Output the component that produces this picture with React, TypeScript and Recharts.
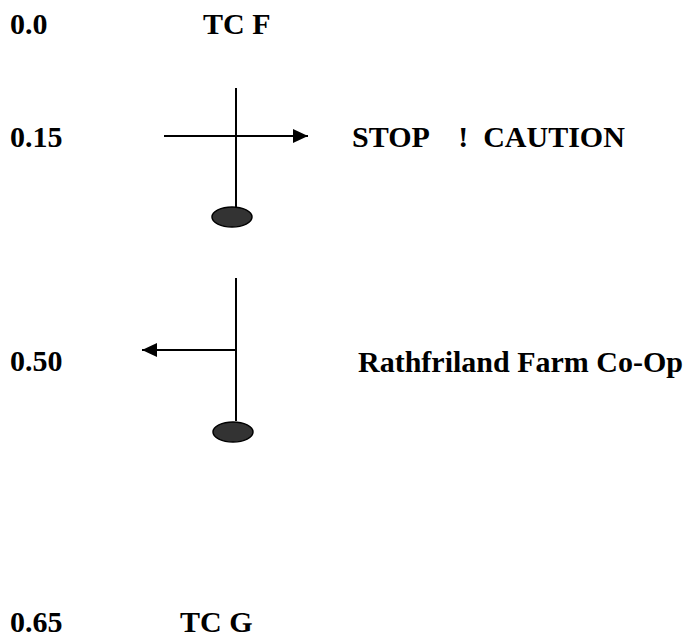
import { ComposedChart, XAxis, YAxis, Line, Scatter } from 'recharts'

// route card: distance column, junction sketches, notes
const distances = ['0.0', '0.15', '0.50', '0.65']
const distanceBaseline = [34, 147, 371, 632]
const notes = ['TC F', 'STOP    !  CAUTION', 'Rathfriland Farm Co-Op', 'TC G']
const noteX = [203, 352, 358, 180]
const noteBaseline = [34, 147, 372, 632]

// junction sketches (diagram units)
const stemX = [236, 236]
const stemTop = [88, 278]
const stemBottom = [207, 421]
const turnY = [136, 350]
const turnFrom = [164, 236]
const turnTo = [308, 142]
const dotX = [232, 233]
const dotY = [217, 432]

const W = 698
const H = 637
const FONT = '"Liberation Serif", "Times New Roman", Times, serif'

const distanceData = distances.map((t, i) => ({ x: 10, y: distanceBaseline[i], text: t }))
const noteData = notes.map((t, i) => ({ x: noteX[i], y: noteBaseline[i], text: t }))
const stems = stemX.map((x, i) => [{ x, y: stemTop[i] }, { x, y: stemBottom[i] }])
const turns = turnY.map((y, i) => [{ x: turnFrom[i], y }, { x: turnTo[i], y }])
const arrowData = turnY.map((y, i) => ({ x: turnTo[i], y, dir: turnTo[i] > turnFrom[i] ? 1 : -1 }))
const dotData = dotX.map((x, i) => ({ x, y: dotY[i] }))

const TextMark = (props: any) => (
  <text
    x={props.cx}
    y={props.cy}
    style={{ fontFamily: FONT, fontWeight: 700, fontSize: 30, whiteSpace: 'pre' }}
    fill="#000"
  >
    {props.payload.text}
  </text>
)

const ArrowHead = (props: any) => {
  const { cx, cy } = props
  const d = props.payload.dir
  const len = 15
  const half = 7
  return (
    <polygon
      points={`${cx},${cy} ${cx - d * len},${cy - half} ${cx - d * len},${cy + half}`}
      fill="#000"
    />
  )
}

const Blob = (props: any) => (
  <ellipse cx={props.cx} cy={props.cy} rx={20} ry={10} fill="#333" stroke="#000" strokeWidth={1.5} />
)

export default function App() {
  return (
    <div style={{ position: 'fixed', left: 0, top: 0, background: '#fff' }}>
      <ComposedChart width={W} height={H} margin={{ top: 0, right: 0, bottom: 0, left: 0 }}>
        <XAxis type="number" dataKey="x" domain={[0, W]} hide />
        <YAxis type="number" dataKey="y" domain={[0, H]} reversed hide />
        {stems.map((seg, i) => (
          <Line key={'s' + i} data={seg} dataKey="y" stroke="#000" strokeWidth={2} dot={false} isAnimationActive={false} />
        ))}
        {turns.map((seg, i) => (
          <Line key={'t' + i} data={seg} dataKey="y" stroke="#000" strokeWidth={2} dot={false} isAnimationActive={false} />
        ))}
        <Scatter data={arrowData} shape={ArrowHead} isAnimationActive={false} />
        <Scatter data={dotData} shape={Blob} isAnimationActive={false} />
        <Scatter data={distanceData} shape={TextMark} isAnimationActive={false} />
        <Scatter data={noteData} shape={TextMark} isAnimationActive={false} />
      </ComposedChart>
    </div>
  )
}
